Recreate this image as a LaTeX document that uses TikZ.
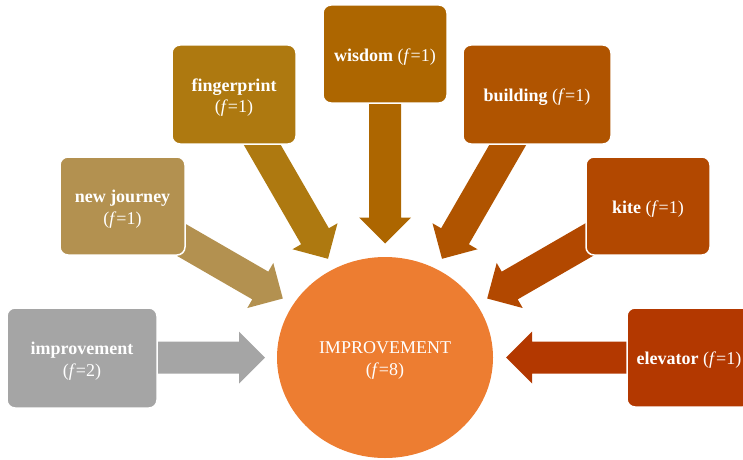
\documentclass[tikz,border=0pt]{standalone}
\usepackage{fontspec}
\setmainfont{Liberation Serif}
\usetikzlibrary{shapes.geometric,backgrounds}
\definecolor{cgray}{HTML}{A5A5A5}
\definecolor{cnew}{HTML}{B39150}
\definecolor{cfing}{HTML}{AE7910}
\definecolor{cwis}{HTML}{AD6600}
\definecolor{cbuild}{HTML}{B05400}
\definecolor{ckite}{HTML}{B24800}
\definecolor{celev}{HTML}{B33800}
\definecolor{corange}{HTML}{ED7D31}
\newcommand\radarrow[3]{%
  \begin{scope}[shift={(hub.center)}, rotate=#1]
    \fill[#3] (#2,0) -- ++(26,26) -- ++(0,-10) -- (265,16) -- (265,-16)
      -- (#2+26,-16) -- ++(0,-10) -- cycle;
  \end{scope}}
\begin{document}
\begin{tikzpicture}[x=1pt,y=1pt,
  txt/.style={text=white, align=center, font=\fontsize{18}{21.6}\selectfont},
  box/.style={rounded corners=8pt, draw=white, line width=1.5pt, inner sep=0pt},
  lab/.style={label={[txt,yshift=-3pt]center:{#1}}}]
\useasboundingbox (0,0) rectangle (743,459);
\clip (0,0) rectangle (743,459);
\node[ellipse, fill=corange, minimum width=216, minimum height=201, inner sep=0pt,
  lab={IMPROVEMENT\\(\textit{f}=8)}] (hub) at (385,101.5) {};
\node[box, fill=cgray, minimum width=150, minimum height=100,
  lab={\textbf{improvement}\\(\textit{f}=2)}] (impr) at (82,101) {};
\node[box, fill=cnew, minimum width=125, minimum height=98,
  lab={\textbf{new journey}\\(\textit{f}=1)}] (newj) at (122.5,253) {};
\node[box, fill=cfing, minimum width=124, minimum height=99,
  lab={\textbf{fingerprint}\\(\textit{f}=1)}] (fing) at (234,364.5) {};
\node[box, fill=cwis, minimum width=124, minimum height=98,
  lab={\textbf{wisdom} (\textit{f}=1)}] (wis) at (385,405) {};
\node[box, fill=cbuild, minimum width=148, minimum height=99,
  lab={\textbf{building} (\textit{f}=1)}] (build) at (537,364.5) {};
\node[box, fill=ckite, minimum width=124, minimum height=98,
  lab={\textbf{kite} (\textit{f}=1)}] (kite) at (648,253) {};
\node[box, fill=celev, minimum width=124, minimum height=99,
  lab={\textbf{elevator} (\textit{f}=1)}] (elev) at (689,101.5) {};
\begin{scope}[on background layer]
  \radarrow{180}{120}{cgray}
  \radarrow{150}{118}{cnew}
  \radarrow{120}{114}{cfing}
  \radarrow{90}{114}{cwis}
  \radarrow{60}{114}{cbuild}
  \radarrow{30}{118}{ckite}
  \radarrow{0}{121}{celev}
\end{scope}
\end{tikzpicture}
\end{document}
